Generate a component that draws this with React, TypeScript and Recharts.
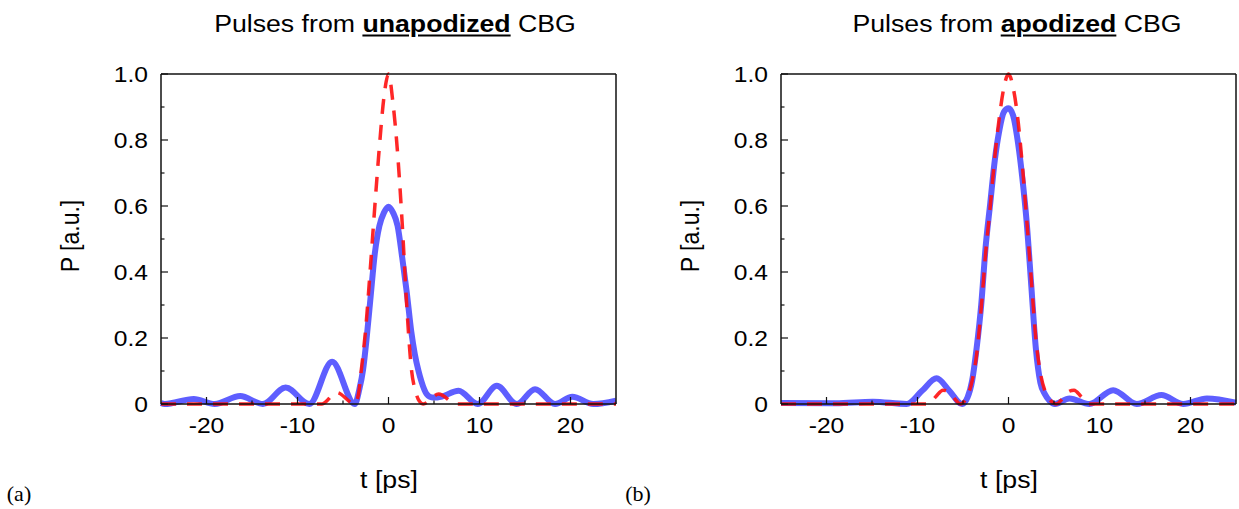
import { Line, LineChart, XAxis, YAxis } from 'recharts'

// axis ticks (minor every 5 ps / 0.1, labels on the majors)
const X_TICKS = [-20, -15, -10, -5, 0, 5, 10, 15, 20]
const X_LABELED = [-20, -10, 0, 10, 20]
const Y_TICKS = [0, 0.1, 0.2, 0.3, 0.4, 0.5, 0.6, 0.7, 0.8, 0.9, 1]
const Y_LABELED = [0, 0.2, 0.4, 0.6, 0.8, 1]

// (a) pulse reflected from the unapodized grating
const unapodT = [-25, -24.6, -21.4, -19.1, -16.3, -13.8, -11.3, -8.7, -6.2, -3.7, -3.2, -2.8, -2.4, -2, -1.5, -1, -0.5, 0, 0.5, 1, 1.5, 2, 2.5, 2.9, 3.3, 3.6, 4.2, 4.8, 5.4, 7.7, 9.8, 11.9, 14.1, 16.1, 18.3, 20.2, 22.5, 25]
const unapodP = [0.003, 0, 0.015, 0, 0.024, 0, 0.05, 0, 0.128, 0, 0.045, 0.103, 0.2, 0.315, 0.457, 0.54, 0.58, 0.598, 0.58, 0.54, 0.445, 0.34, 0.22, 0.15, 0.1, 0.07, 0.03, 0.02, 0.02, 0.04, 0, 0.055, 0, 0.045, 0, 0.022, 0, 0.01]
// (a) reference input pulse (dashed)
const inputAT = [-25, -7.3, -5.7, -3.7, -3.3, -3, -2.5, -2, -1.5, -1, -0.5, 0, 0.5, 1, 1.5, 2, 2.5, 3, 3.4, 3.8, 5.5, 7.5, 25]
const inputAP = [0, 0, 0.035, 0, 0.03, 0.1, 0.23, 0.41, 0.6, 0.78, 0.93, 1, 0.91, 0.76, 0.55, 0.3, 0.11, 0.035, 0.008, 0, 0.03, 0, 0]

// (b) pulse reflected from the apodized grating
const apodT = [-25, -19, -14.9, -11.2, -9.5, -7.9, -6.5, -5.1, -4.5, -4, -3.5, -3, -2.5, -2, -1.5, -1, -0.5, 0, 0.5, 1, 1.5, 2, 2.5, 3, 3.5, 4, 4.5, 5.1, 6.7, 8.9, 11.5, 14.1, 16.8, 19.2, 21.8, 25]
const apodP = [0.003, 0.002, 0.007, 0, 0.04, 0.078, 0.04, 0, 0.02, 0.07, 0.17, 0.3, 0.48, 0.61, 0.74, 0.83, 0.885, 0.896, 0.875, 0.8, 0.69, 0.55, 0.36, 0.17, 0.065, 0.03, 0.01, 0, 0.017, 0, 0.042, 0, 0.027, 0, 0.017, 0.004]
// (b) reference input pulse (dashed)
const inputBT = [-25, -8.8, -8, -7.2, -6.5, -5.8, -5.3, -4.5, -4, -3.5, -3, -2.5, -2, -1.5, -1, -0.5, 0, 0.5, 1, 1.5, 2, 2.5, 3, 3.5, 4, 4.5, 5.3, 5.8, 6.5, 7.2, 8, 8.8, 25]
const inputBP = [0, 0, 0.022, 0.042, 0.036, 0.012, 0, 0.025, 0.07, 0.15, 0.29, 0.46, 0.6, 0.75, 0.87, 0.96, 1, 0.96, 0.87, 0.73, 0.56, 0.38, 0.2, 0.095, 0.04, 0.015, 0, 0.012, 0.036, 0.042, 0.022, 0, 0]

const toRows = (ts: number[], ps: number[]) => ts.map((t, i) => ({ t, p: ps[i] }))

const FONT = '"Liberation Sans", Arial, Helvetica, sans-serif'
const STRETCH = 1.12
const TICK_FONT = 22
const FRAME = '#111'
const MAJOR = 7
const MINOR = 3.5

function BottomTick(props: any) {
  const { x, y, payload } = props
  const major = X_LABELED.includes(payload.value)
  return (
    <g>
      <line x1={x} x2={x} y1={y} y2={y - (major ? MAJOR : MINOR)} stroke={FRAME} strokeWidth={1.2} />
      {major && (
        <text
          transform={`translate(${x},${y + 29}) scale(${STRETCH},1)`}
          textAnchor="middle"
          fontFamily={FONT}
          fontSize={TICK_FONT}
          fill="#000"
        >
          {payload.value}
        </text>
      )}
    </g>
  )
}

function TopTick(props: any) {
  const { x, y, payload } = props
  const major = X_LABELED.includes(payload.value)
  return <line x1={x} x2={x} y1={y} y2={y + (major ? MAJOR : MINOR)} stroke={FRAME} strokeWidth={1.2} />
}

function LeftTick(props: any) {
  const { x, y, payload } = props
  const v = payload.value
  const major = Y_LABELED.includes(v)
  return (
    <g>
      <line x1={x} x2={x + (major ? MAJOR : MINOR)} y1={y} y2={y} stroke={FRAME} strokeWidth={1.2} />
      {major && (
        <text
          transform={`translate(${x - 13},${y}) scale(${STRETCH},1)`}
          textAnchor="end"
          dy="0.36em"
          fontFamily={FONT}
          fontSize={TICK_FONT}
          fill="#000"
        >
          {v === 0 ? '0' : v.toFixed(1)}
        </text>
      )}
    </g>
  )
}

function RightTick(props: any) {
  const { x, y, payload } = props
  const major = Y_LABELED.includes(payload.value)
  return <line x1={x} x2={x - (major ? MAJOR : MINOR)} y1={y} y2={y} stroke={FRAME} strokeWidth={1.2} />
}

const axisLine = { stroke: FRAME, strokeWidth: 1.5 }

function Panel({ pulse, input }: { pulse: { t: number; p: number }[]; input: { t: number; p: number }[] }) {
  return (
    <LineChart width={620} height={509} margin={{ top: 73, right: 3, bottom: 65, left: 101 }}>
      <XAxis
        xAxisId="b"
        dataKey="t"
        type="number"
        domain={[-25, 25]}
        ticks={X_TICKS}
        interval={0}
        tickSize={0}
        tickMargin={0}
        tickLine={false}
        tick={<BottomTick />}
        axisLine={axisLine}
        height={40}
      />
      <XAxis
        xAxisId="top"
        orientation="top"
        dataKey="t"
        type="number"
        domain={[-25, 25]}
        ticks={X_TICKS}
        interval={0}
        tickSize={0}
        tickMargin={0}
        tickLine={false}
        tick={<TopTick />}
        axisLine={axisLine}
        height={1}
      />
      <YAxis
        yAxisId="l"
        type="number"
        domain={[0, 1]}
        ticks={Y_TICKS}
        interval={0}
        tickSize={0}
        tickMargin={0}
        tickLine={false}
        tick={<LeftTick />}
        axisLine={axisLine}
        width={60}
      />
      <YAxis
        yAxisId="r"
        orientation="right"
        type="number"
        domain={[0, 1]}
        ticks={Y_TICKS}
        interval={0}
        tickSize={0}
        tickMargin={0}
        tickLine={false}
        tick={<RightTick />}
        axisLine={axisLine}
        width={1}
      />
      <Line
        xAxisId="b"
        yAxisId="l"
        data={pulse}
        dataKey="p"
        type="monotone"
        stroke="rgba(40,40,255,0.75)"
        strokeWidth={6}
        dot={false}
        activeDot={false}
        isAnimationActive={false}
      />
      <Line
        xAxisId="b"
        yAxisId="l"
        data={input}
        dataKey="p"
        type="monotone"
        stroke="#ff1010"
        strokeOpacity={0.9}
        strokeWidth={3.5}
        strokeDasharray="15 11"
        dot={false}
        activeDot={false}
        isAnimationActive={false}
      />
    </LineChart>
  )
}

function Caption({ x, y, size, children, rotate, serif, stretch = 1.16 }: any) {
  return (
    <div
      style={{
        position: 'absolute',
        left: x,
        top: y,
        transform: `translate(-50%, -50%) scaleX(${stretch})${rotate ? ' rotate(-90deg)' : ''}`,
        whiteSpace: 'nowrap',
        lineHeight: 1,
        fontSize: size,
        fontFamily: serif ? '"Liberation Serif", "Times New Roman", serif' : FONT,
        color: '#000',
      }}
    >
      {children}
    </div>
  )
}

const bold = { fontWeight: 'bold' as const, textDecoration: 'underline', textDecorationThickness: 2, textUnderlineOffset: 3 }

export default function App() {
  return (
    <div style={{ position: 'absolute', left: 0, top: 0, width: 1239, height: 509, background: '#fff', overflow: 'hidden' }}>
      <div style={{ position: 'absolute', left: 0, top: 0 }}>
        <Panel pulse={toRows(unapodT, unapodP)} input={toRows(inputAT, inputAP)} />
      </div>
      <div style={{ position: 'absolute', left: 620, top: 0 }}>
        <Panel pulse={toRows(apodT, apodP)} input={toRows(inputBT, inputBP)} />
      </div>

      <Caption x={395} y={23.5} size={23}>
        Pulses from <span style={bold}>unapodized</span> CBG
      </Caption>
      <Caption x={1016.5} y={23.5} size={23}>
        Pulses from <span style={bold}>apodized</span> CBG
      </Caption>

      <Caption x={70} y={236} size={23} rotate>P [a.u.]</Caption>
      <Caption x={690} y={236} size={23} rotate>P [a.u.]</Caption>

      <Caption x={388.5} y={480} size={23}>t [ps]</Caption>
      <Caption x={1008.5} y={480} size={23}>t [ps]</Caption>

      <Caption x={19} y={494} size={22} serif stretch={1}>(a)</Caption>
      <Caption x={638} y={494} size={22} serif stretch={1}>(b)</Caption>
    </div>
  )
}
